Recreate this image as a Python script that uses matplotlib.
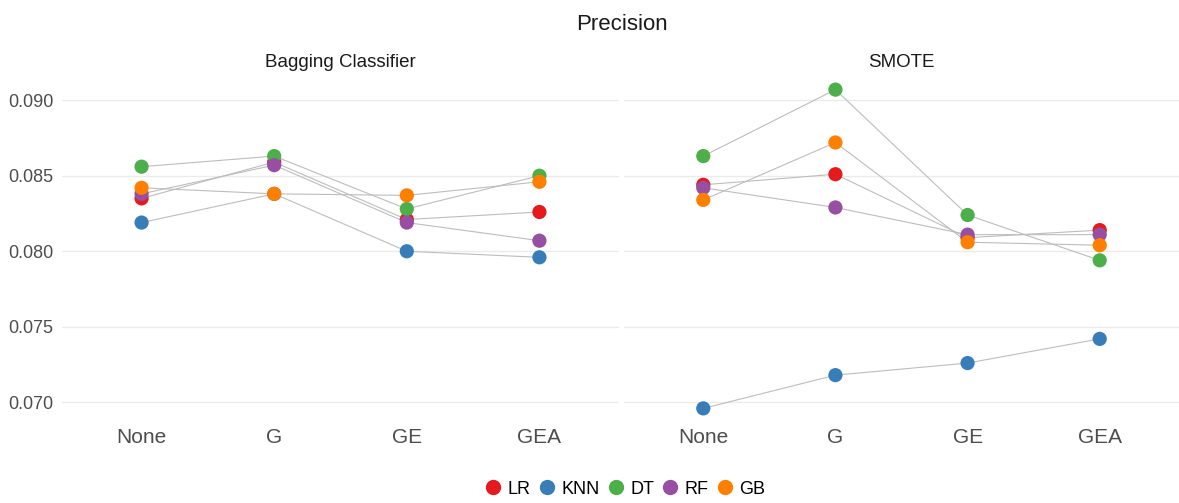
import matplotlib
matplotlib.use("Agg")
import matplotlib.pyplot as plt
from matplotlib.lines import Line2D

plt.rcParams["font.family"] = ["Liberation Sans", "DejaVu Sans"]

categories = ["None", "G", "GE", "GEA"]
models = ["LR", "KNN", "DT", "RF", "GB"]
colors = ["#E41A1C", "#377EB8", "#4DAF4A", "#984EA3", "#FF7F00"]
panels = ["Bagging Classifier", "SMOTE"]

# precision per model, one list per panel (None, G, GE, GEA)
bagging_lr = [0.0835, 0.0859, 0.0821, 0.0826]
bagging_knn = [0.0819, 0.0838, 0.0800, 0.0796]
bagging_dt = [0.0856, 0.0863, 0.0828, 0.0850]
bagging_rf = [0.0838, 0.0857, 0.0819, 0.0807]
bagging_gb = [0.0842, 0.0838, 0.0837, 0.0846]

smote_lr = [0.0844, 0.0851, 0.0809, 0.0814]
smote_knn = [0.0696, 0.0718, 0.0726, 0.0742]
smote_dt = [0.0863, 0.0907, 0.0824, 0.0794]
smote_rf = [0.0842, 0.0829, 0.0811, 0.0811]
smote_gb = [0.0834, 0.0872, 0.0806, 0.0804]

panel_data = [
    [bagging_lr, bagging_knn, bagging_dt, bagging_rf, bagging_gb],
    [smote_lr, smote_knn, smote_dt, smote_rf, smote_gb],
]

W, H = 1179, 503
fig = plt.figure(figsize=(W / 100, H / 100), dpi=100)

y_top, y_bot = 73, 425
ax_boxes = [(62, 557), (624, 555)]
x_pos = [1, 2, 3, 4]

for (left, width), title, series in zip(ax_boxes, panels, panel_data):
    ax = fig.add_axes([left / W, 1 - y_bot / H, width / W, (y_bot - y_top) / H])
    for vals in series:
        ax.plot(x_pos, vals, color="#bdbdbd", lw=0.8, zorder=1)
    for vals, c in zip(series, colors):
        ax.scatter(x_pos, vals, s=105, color=c, edgecolors="none", zorder=3)
    ax.set_xlim(0.4, 4.6)
    ax.set_ylim(0.0685, 0.0918)
    ax.set_yticks([0.070, 0.075, 0.080, 0.085, 0.090])
    ax.set_xticks(x_pos)
    ax.set_xticklabels(categories, fontsize=15, color="#4d4d4d")
    ax.grid(axis="y", color="#ebebeb", lw=1)
    ax.set_axisbelow(True)
    ax.tick_params(axis="x", length=0, pad=2)
    ax.tick_params(axis="y", length=0, pad=6)
    for s in ax.spines.values():
        s.set_visible(False)
    if left == 62:
        ax.set_yticklabels(["0.070", "0.075", "0.080", "0.085", "0.090"], fontsize=13, color="#4d4d4d")
    else:
        ax.set_yticklabels([])
    ax.set_title(title, fontsize=13.5, color="#1a1a1a", pad=4)

fig.text(622 / W, 1 - 25 / H, "Precision", ha="center", va="center", fontsize=16, color="#1a1a1a")

handles = [Line2D([], [], marker="o", ls="none", color=c, markersize=10) for c in colors]
fig.legend(handles, models, loc="center", bbox_to_anchor=(624 / W, 1 - 489 / H), ncol=5,
           frameon=False, fontsize=13, handletextpad=0.2, columnspacing=0.3, handlelength=1.2)

fig.savefig("out.png", dpi=100)
